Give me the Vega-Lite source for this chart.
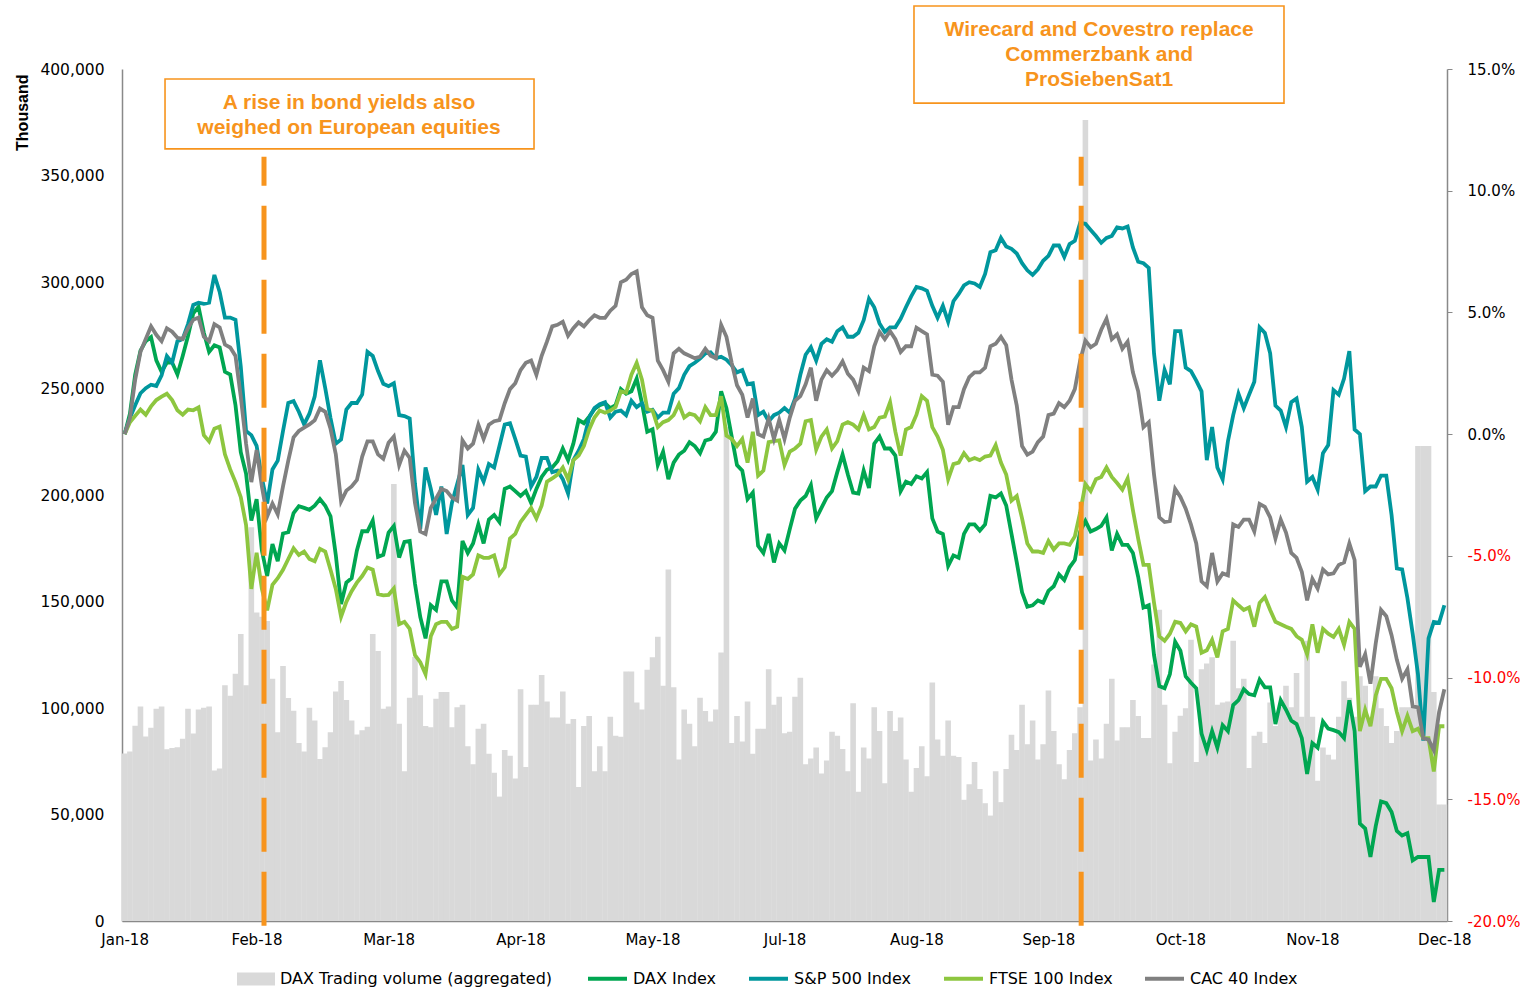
{
"$schema":"https://vega.github.io/schema/vega-lite/v6.json",
"width":1325,"height":852,
"autosize":{"type":"none"},
"padding":{"left":122,"top":69,"right":78,"bottom":68},
"background":"white",
"config":{"view":{"stroke":null},"font":"DejaVu Sans","axis":{"grid":false}},
"data":{"values":[
{"i":0,"v":78600,"dax":0,"sp":0,"ftse":0,"cac":0},
{"i":1,"v":79600,"dax":0.84,"sp":0.66,"ftse":0.49,"cac":0.66},
{"i":2,"v":91700,"dax":2.45,"sp":1.19,"ftse":0.75,"cac":2.24},
{"i":3,"v":100700,"dax":3.43,"sp":1.68,"ftse":1.01,"cac":3.38},
{"i":4,"v":86600,"dax":3.82,"sp":1.89,"ftse":0.80,"cac":3.91},
{"i":5,"v":90700,"dax":3.99,"sp":2.03,"ftse":1.14,"cac":4.43},
{"i":6,"v":99700,"dax":3.03,"sp":1.98,"ftse":1.40,"cac":4.08},
{"i":7,"v":100700,"dax":2.56,"sp":2.42,"ftse":1.54,"cac":3.82},
{"i":8,"v":80600,"dax":2.94,"sp":3.21,"ftse":1.66,"cac":4.35},
{"i":9,"v":81200,"dax":2.94,"sp":2.94,"ftse":1.40,"cac":4.21},
{"i":10,"v":81600,"dax":2.45,"sp":3.82,"ftse":0.98,"cac":3.96},
{"i":11,"v":85600,"dax":3.21,"sp":3.91,"ftse":0.80,"cac":3.91},
{"i":12,"v":99700,"dax":4.03,"sp":4.52,"ftse":1.01,"cac":4.35},
{"i":13,"v":88000,"dax":4.96,"sp":5.31,"ftse":0.98,"cac":4.70},
{"i":14,"v":99300,"dax":5.23,"sp":5.40,"ftse":1.10,"cac":4.79},
{"i":15,"v":100100,"dax":4.17,"sp":5.35,"ftse":-0.04,"cac":4.00},
{"i":16,"v":100700,"dax":3.38,"sp":5.40,"ftse":-0.30,"cac":3.82},
{"i":17,"v":70600,"dax":3.65,"sp":6.54,"ftse":0.22,"cac":4.52},
{"i":18,"v":71600,"dax":3.56,"sp":5.84,"ftse":0.31,"cac":4.38},
{"i":19,"v":110700,"dax":2.56,"sp":4.79,"ftse":-0.83,"cac":3.68},
{"i":20,"v":105700,"dax":2.45,"sp":4.79,"ftse":-1.45,"cac":3.56},
{"i":21,"v":116100,"dax":1.19,"sp":4.70,"ftse":-1.97,"cac":3.21},
{"i":22,"v":134800,"dax":-0.74,"sp":2.77,"ftse":-2.59,"cac":1.54},
{"i":23,"v":110700,"dax":-1.62,"sp":0.13,"ftse":-3.73,"cac":-0.39},
{"i":24,"v":184900,"dax":-3.55,"sp":-0.04,"ftse":-6.36,"cac":-1.97},
{"i":25,"v":144800,"dax":-2.67,"sp":-0.48,"ftse":-4.87,"cac":-0.65},
{"i":26,"v":142800,"dax":-4.78,"sp":-1.80,"ftse":-6.36,"cac":-2.15},
{"i":27,"v":140800,"dax":-5.83,"sp":-2.85,"ftse":-7.24,"cac":-3.38},
{"i":28,"v":113700,"dax":-4.52,"sp":-1.45,"ftse":-6.19,"cac":-2.85},
{"i":29,"v":88600,"dax":-5.22,"sp":-1.09,"ftse":-5.92,"cac":-3.29},
{"i":30,"v":119700,"dax":-4.08,"sp":0.13,"ftse":-5.57,"cac":-2.15},
{"i":31,"v":104700,"dax":-4.03,"sp":1.28,"ftse":-5.13,"cac":-1.09},
{"i":32,"v":98700,"dax":-3.24,"sp":1.36,"ftse":-4.69,"cac":-0.13},
{"i":33,"v":83600,"dax":-2.96,"sp":0.92,"ftse":-4.96,"cac":0.13},
{"i":34,"v":79600,"dax":-3.03,"sp":0.40,"ftse":-4.82,"cac":0.27},
{"i":35,"v":100100,"dax":-3.11,"sp":0.84,"ftse":-5.13,"cac":0.40},
{"i":36,"v":94100,"dax":-2.94,"sp":1.54,"ftse":-5.22,"cac":0.57},
{"i":37,"v":76000,"dax":-2.67,"sp":3.03,"ftse":-4.71,"cac":1.05},
{"i":38,"v":81600,"dax":-2.94,"sp":1.89,"ftse":-4.82,"cac":0.92},
{"i":39,"v":88600,"dax":-3.38,"sp":0.66,"ftse":-5.57,"cac":0.22},
{"i":40,"v":107700,"dax":-4.96,"sp":-0.39,"ftse":-6.36,"cac":-0.83},
{"i":41,"v":112700,"dax":-6.98,"sp":-0.22,"ftse":-7.50,"cac":-2.76},
{"i":42,"v":103700,"dax":-6.10,"sp":1.01,"ftse":-6.89,"cac":-2.32},
{"i":43,"v":94100,"dax":-5.92,"sp":1.28,"ftse":-6.45,"cac":-2.15},
{"i":44,"v":87600,"dax":-4.78,"sp":1.28,"ftse":-6.10,"cac":-1.88},
{"i":45,"v":89600,"dax":-3.99,"sp":1.63,"ftse":-5.83,"cac":-0.92},
{"i":46,"v":91200,"dax":-3.99,"sp":3.38,"ftse":-5.48,"cac":-0.30},
{"i":47,"v":134800,"dax":-3.55,"sp":3.21,"ftse":-5.57,"cac":-0.30},
{"i":48,"v":126800,"dax":-5.04,"sp":2.59,"ftse":-6.57,"cac":-0.83},
{"i":49,"v":99700,"dax":-4.96,"sp":2.07,"ftse":-6.62,"cac":-1.01},
{"i":50,"v":100700,"dax":-4.04,"sp":1.97,"ftse":-6.60,"cac":-0.35},
{"i":51,"v":205200,"dax":-3.77,"sp":2.09,"ftse":-6.34,"cac":-0.10},
{"i":52,"v":92600,"dax":-5.07,"sp":0.78,"ftse":-7.81,"cac":-1.27},
{"i":53,"v":70300,"dax":-4.43,"sp":0.74,"ftse":-7.71,"cac":-0.68},
{"i":54,"v":104800,"dax":-4.39,"sp":0.64,"ftse":-8.00,"cac":-0.98},
{"i":55,"v":124000,"dax":-6.15,"sp":-2.05,"ftse":-9.08,"cac":-2.83},
{"i":56,"v":106000,"dax":-7.51,"sp":-3.90,"ftse":-9.37,"cac":-4.00},
{"i":57,"v":91500,"dax":-8.39,"sp":-1.37,"ftse":-9.86,"cac":-4.10},
{"i":58,"v":91000,"dax":-7.03,"sp":-2.25,"ftse":-8.30,"cac":-3.03},
{"i":59,"v":104400,"dax":-7.22,"sp":-3.32,"ftse":-7.81,"cac":-2.64},
{"i":60,"v":107500,"dax":-6.05,"sp":-2.15,"ftse":-7.71,"cac":-2.25},
{"i":61,"v":107500,"dax":-6.05,"sp":-4.10,"ftse":-7.71,"cac":-2.34},
{"i":62,"v":91000,"dax":-6.83,"sp":-2.83,"ftse":-8.00,"cac":-2.60},
{"i":63,"v":100400,"dax":-7.12,"sp":-2.05,"ftse":-7.91,"cac":-2.73},
{"i":64,"v":101500,"dax":-4.39,"sp":-1.27,"ftse":-5.86,"cac":-0.26},
{"i":65,"v":82100,"dax":-4.88,"sp":-3.32,"ftse":-5.95,"cac":-0.59},
{"i":66,"v":73600,"dax":-4.49,"sp":-3.03,"ftse":-5.76,"cac":-0.39},
{"i":67,"v":90300,"dax":-3.71,"sp":-1.46,"ftse":-4.98,"cac":0.39},
{"i":68,"v":92600,"dax":-4.49,"sp":-1.95,"ftse":-5.08,"cac":-0.20},
{"i":69,"v":78500,"dax":-3.51,"sp":-1.23,"ftse":-5.08,"cac":0.39},
{"i":70,"v":69600,"dax":-3.32,"sp":-1.37,"ftse":-4.98,"cac":0.53},
{"i":71,"v":58400,"dax":-3.61,"sp":-0.49,"ftse":-5.76,"cac":0.58},
{"i":72,"v":80300,"dax":-2.25,"sp":0.39,"ftse":-5.47,"cac":1.27},
{"i":73,"v":77600,"dax":-2.15,"sp":0.45,"ftse":-4.29,"cac":1.85},
{"i":74,"v":66900,"dax":-2.34,"sp":-0.20,"ftse":-4.10,"cac":2.09},
{"i":75,"v":108800,"dax":-2.54,"sp":-0.88,"ftse":-3.61,"cac":2.63},
{"i":76,"v":72300,"dax":-2.34,"sp":-0.92,"ftse":-3.32,"cac":2.93},
{"i":77,"v":101500,"dax":-2.83,"sp":-2.15,"ftse":-3.03,"cac":3.02},
{"i":78,"v":101500,"dax":-2.25,"sp":-1.76,"ftse":-3.46,"cac":2.44},
{"i":79,"v":115500,"dax":-1.76,"sp":-0.98,"ftse":-2.93,"cac":3.22},
{"i":80,"v":103000,"dax":-1.46,"sp":-0.98,"ftse":-1.95,"cac":3.80},
{"i":81,"v":95500,"dax":-1.37,"sp":-1.56,"ftse":-1.82,"cac":4.43},
{"i":82,"v":95500,"dax":-1.11,"sp":-1.50,"ftse":-1.66,"cac":4.49},
{"i":83,"v":107700,"dax":-0.59,"sp":-1.85,"ftse":-1.37,"cac":4.62},
{"i":84,"v":92600,"dax":-1.07,"sp":-2.44,"ftse":-1.86,"cac":4.04},
{"i":85,"v":94800,"dax":-0.39,"sp":-1.07,"ftse":-1.07,"cac":4.35},
{"i":86,"v":62900,"dax":0.58,"sp":-0.68,"ftse":-0.88,"cac":4.59},
{"i":87,"v":91500,"dax":0.45,"sp":-0.20,"ftse":-0.49,"cac":4.43},
{"i":88,"v":96300,"dax":0.72,"sp":0.68,"ftse":0.19,"cac":4.68},
{"i":89,"v":70300,"dax":1.03,"sp":1.07,"ftse":0.68,"cac":4.88},
{"i":90,"v":82100,"dax":1.19,"sp":1.23,"ftse":0.97,"cac":4.78},
{"i":91,"v":70300,"dax":1.27,"sp":1.31,"ftse":0.88,"cac":4.78},
{"i":92,"v":95900,"dax":1.07,"sp":0.68,"ftse":0.97,"cac":5.07},
{"i":93,"v":87000,"dax":1.19,"sp":0.92,"ftse":1.11,"cac":5.27},
{"i":94,"v":86500,"dax":1.85,"sp":0.97,"ftse":1.76,"cac":6.24},
{"i":95,"v":117100,"dax":1.66,"sp":0.78,"ftse":1.70,"cac":6.34},
{"i":96,"v":117100,"dax":1.76,"sp":1.37,"ftse":2.44,"cac":6.58},
{"i":97,"v":102600,"dax":2.28,"sp":1.11,"ftse":2.93,"cac":6.69},
{"i":98,"v":99300,"dax":1.27,"sp":1.27,"ftse":2.24,"cac":5.21},
{"i":99,"v":118000,"dax":0.10,"sp":0.92,"ftse":1.03,"cac":4.88},
{"i":100,"v":123800,"dax":0.20,"sp":1.00,"ftse":0.97,"cac":4.78},
{"i":101,"v":133400,"dax":-1.27,"sp":0.68,"ftse":0.29,"cac":3.02},
{"i":102,"v":110400,"dax":-0.72,"sp":0.88,"ftse":0.49,"cac":2.63},
{"i":103,"v":165000,"dax":-1.85,"sp":0.88,"ftse":0.58,"cac":2.15},
{"i":104,"v":109700,"dax":-1.17,"sp":1.66,"ftse":0.78,"cac":3.32},
{"i":105,"v":75800,"dax":-0.84,"sp":1.89,"ftse":1.23,"cac":3.51},
{"i":106,"v":99300,"dax":-0.68,"sp":2.44,"ftse":0.68,"cac":3.32},
{"i":107,"v":92600,"dax":-0.33,"sp":2.79,"ftse":0.84,"cac":3.22},
{"i":108,"v":82100,"dax":-0.49,"sp":2.93,"ftse":0.78,"cac":3.12},
{"i":109,"v":104800,"dax":-0.78,"sp":3.10,"ftse":0.53,"cac":3.18},
{"i":110,"v":98600,"dax":-0.26,"sp":3.32,"ftse":1.11,"cac":3.51},
{"i":111,"v":93700,"dax":-0.20,"sp":3.36,"ftse":0.78,"cac":3.22},
{"i":112,"v":99300,"dax":0.10,"sp":3.12,"ftse":0.78,"cac":3.12},
{"i":113,"v":126000,"dax":1.76,"sp":3.18,"ftse":1.56,"cac":4.49},
{"i":114,"v":232000,"dax":1.07,"sp":3.06,"ftse":-0.06,"cac":4.00},
{"i":115,"v":83600,"dax":-0.10,"sp":2.83,"ftse":-0.20,"cac":2.93},
{"i":116,"v":96300,"dax":-1.27,"sp":2.54,"ftse":-0.49,"cac":2.01},
{"i":117,"v":84300,"dax":-1.50,"sp":2.63,"ftse":-0.20,"cac":1.62},
{"i":118,"v":103000,"dax":-2.67,"sp":2.05,"ftse":-1.17,"cac":0.68},
{"i":119,"v":78500,"dax":-2.40,"sp":2.09,"ftse":0.10,"cac":1.46},
{"i":120,"v":90300,"dax":-4.59,"sp":0.78,"ftse":-1.70,"cac":0.00},
{"i":121,"v":90300,"dax":-4.88,"sp":0.92,"ftse":-1.50,"cac":-0.10},
{"i":122,"v":118200,"dax":-4.10,"sp":0.53,"ftse":-0.33,"cac":0.64},
{"i":123,"v":101500,"dax":-5.27,"sp":0.78,"ftse":-0.29,"cac":-0.20},
{"i":124,"v":105300,"dax":-4.49,"sp":0.88,"ftse":-0.26,"cac":0.58},
{"i":125,"v":88100,"dax":-4.78,"sp":1.07,"ftse":-1.27,"cac":-0.20},
{"i":126,"v":88800,"dax":-3.90,"sp":0.88,"ftse":-0.72,"cac":0.68},
{"i":127,"v":105300,"dax":-3.06,"sp":1.46,"ftse":-0.59,"cac":1.37},
{"i":128,"v":114200,"dax":-2.73,"sp":2.44,"ftse":-0.39,"cac":1.56},
{"i":129,"v":73600,"dax":-2.54,"sp":3.26,"ftse":0.53,"cac":2.05},
{"i":130,"v":76300,"dax":-2.09,"sp":3.57,"ftse":0.58,"cac":2.73},
{"i":131,"v":81400,"dax":-3.46,"sp":3.02,"ftse":-0.64,"cac":1.37},
{"i":132,"v":69200,"dax":-3.03,"sp":3.71,"ftse":-0.10,"cac":2.24},
{"i":133,"v":75400,"dax":-2.60,"sp":3.90,"ftse":0.19,"cac":2.63},
{"i":134,"v":88800,"dax":-2.34,"sp":3.80,"ftse":-0.59,"cac":2.40},
{"i":135,"v":87000,"dax":-1.56,"sp":4.23,"ftse":-0.29,"cac":2.63},
{"i":136,"v":80800,"dax":-0.84,"sp":4.39,"ftse":0.39,"cac":2.99},
{"i":137,"v":70300,"dax":-1.66,"sp":4.00,"ftse":0.49,"cac":2.48},
{"i":138,"v":102200,"dax":-2.40,"sp":4.00,"ftse":0.39,"cac":2.24},
{"i":139,"v":60700,"dax":-2.44,"sp":4.16,"ftse":0.19,"cac":1.76},
{"i":140,"v":81400,"dax":-1.50,"sp":4.68,"ftse":0.78,"cac":2.73},
{"i":141,"v":76300,"dax":-2.21,"sp":5.56,"ftse":0.19,"cac":2.59},
{"i":142,"v":100400,"dax":-0.39,"sp":5.21,"ftse":0.29,"cac":3.61},
{"i":143,"v":89200,"dax":-0.10,"sp":4.55,"ftse":0.68,"cac":4.20},
{"i":144,"v":64700,"dax":-0.59,"sp":4.20,"ftse":0.72,"cac":3.90},
{"i":145,"v":98600,"dax":-0.59,"sp":4.39,"ftse":1.31,"cac":4.23},
{"i":146,"v":89200,"dax":-0.88,"sp":4.39,"ftse":0.10,"cac":3.90},
{"i":147,"v":95500,"dax":-2.34,"sp":4.74,"ftse":-0.88,"cac":3.37},
{"i":148,"v":75800,"dax":-1.95,"sp":5.21,"ftse":0.19,"cac":3.61},
{"i":149,"v":60700,"dax":-2.05,"sp":5.66,"ftse":0.29,"cac":3.61},
{"i":150,"v":71800,"dax":-1.73,"sp":6.05,"ftse":0.80,"cac":4.37},
{"i":151,"v":82100,"dax":-1.82,"sp":5.99,"ftse":1.56,"cac":4.23},
{"i":152,"v":68000,"dax":-1.56,"sp":5.89,"ftse":1.37,"cac":4.10},
{"i":153,"v":112000,"dax":-3.46,"sp":5.27,"ftse":0.29,"cac":2.44},
{"i":154,"v":85200,"dax":-4.00,"sp":4.78,"ftse":-0.10,"cac":2.40},
{"i":155,"v":77600,"dax":-4.10,"sp":5.27,"ftse":-0.64,"cac":2.15},
{"i":156,"v":94100,"dax":-5.41,"sp":4.62,"ftse":-1.85,"cac":0.39},
{"i":157,"v":77600,"dax":-4.98,"sp":5.46,"ftse":-1.23,"cac":1.11},
{"i":158,"v":77000,"dax":-5.08,"sp":5.76,"ftse":-1.17,"cac":1.11},
{"i":159,"v":56900,"dax":-4.10,"sp":6.11,"ftse":-0.78,"cac":1.85},
{"i":160,"v":64200,"dax":-3.71,"sp":6.24,"ftse":-1.07,"cac":2.34},
{"i":161,"v":74700,"dax":-3.71,"sp":6.19,"ftse":-0.98,"cac":2.54},
{"i":162,"v":62000,"dax":-3.96,"sp":6.05,"ftse":-1.07,"cac":2.54},
{"i":163,"v":55300,"dax":-3.71,"sp":6.58,"ftse":-0.92,"cac":2.73},
{"i":164,"v":49500,"dax":-2.54,"sp":7.47,"ftse":-0.88,"cac":3.61},
{"i":165,"v":70300,"dax":-2.60,"sp":7.55,"ftse":-0.45,"cac":3.71},
{"i":166,"v":55800,"dax":-2.44,"sp":8.06,"ftse":-1.17,"cac":4.00},
{"i":167,"v":71400,"dax":-2.93,"sp":7.71,"ftse":-1.66,"cac":3.65},
{"i":168,"v":87400,"dax":-4.10,"sp":7.61,"ftse":-2.73,"cac":2.24},
{"i":169,"v":80300,"dax":-5.27,"sp":7.42,"ftse":-2.54,"cac":1.17},
{"i":170,"v":101500,"dax":-6.50,"sp":7.02,"ftse":-3.46,"cac":-0.49},
{"i":171,"v":83000,"dax":-7.09,"sp":6.73,"ftse":-4.49,"cac":-0.84},
{"i":172,"v":94100,"dax":-7.03,"sp":6.54,"ftse":-4.82,"cac":-0.72},
{"i":173,"v":75800,"dax":-6.83,"sp":6.77,"ftse":-4.82,"cac":-0.33},
{"i":174,"v":83000,"dax":-6.93,"sp":7.12,"ftse":-4.88,"cac":-0.10},
{"i":175,"v":108200,"dax":-6.44,"sp":7.32,"ftse":-4.39,"cac":0.78},
{"i":176,"v":89200,"dax":-6.25,"sp":7.75,"ftse":-4.74,"cac":0.84},
{"i":177,"v":73600,"dax":-5.76,"sp":7.75,"ftse":-4.49,"cac":1.27},
{"i":178,"v":66500,"dax":-5.99,"sp":7.28,"ftse":-4.49,"cac":1.11},
{"i":179,"v":80300,"dax":-5.47,"sp":7.81,"ftse":-4.55,"cac":1.37},
{"i":180,"v":88100,"dax":-5.17,"sp":7.94,"ftse":-4.20,"cac":1.85},
{"i":181,"v":100400,"dax":-4.00,"sp":8.68,"ftse":-3.22,"cac":3.02},
{"i":182,"v":376000,"dax":-3.57,"sp":8.64,"ftse":-2.05,"cac":3.84},
{"i":183,"v":75400,"dax":-4.00,"sp":8.39,"ftse":-2.34,"cac":3.57},
{"i":184,"v":85200,"dax":-3.90,"sp":8.14,"ftse":-1.85,"cac":3.71},
{"i":185,"v":76300,"dax":-3.77,"sp":7.86,"ftse":-1.76,"cac":4.29},
{"i":186,"v":92600,"dax":-3.42,"sp":8.06,"ftse":-1.37,"cac":4.74},
{"i":187,"v":113700,"dax":-4.78,"sp":8.14,"ftse":-1.76,"cac":3.90},
{"i":188,"v":84800,"dax":-4.10,"sp":8.49,"ftse":-2.01,"cac":4.10},
{"i":189,"v":91000,"dax":-4.55,"sp":8.45,"ftse":-2.28,"cac":3.51},
{"i":190,"v":91000,"dax":-4.55,"sp":8.53,"ftse":-1.82,"cac":3.80},
{"i":191,"v":103700,"dax":-4.88,"sp":7.67,"ftse":-3.12,"cac":2.54},
{"i":192,"v":96300,"dax":-5.86,"sp":7.08,"ftse":-4.29,"cac":1.76},
{"i":193,"v":85900,"dax":-7.12,"sp":7.02,"ftse":-5.37,"cac":0.29},
{"i":194,"v":85900,"dax":-7.03,"sp":6.83,"ftse":-5.37,"cac":0.49},
{"i":195,"v":120400,"dax":-9.08,"sp":3.32,"ftse":-6.93,"cac":-1.66},
{"i":196,"v":146100,"dax":-10.35,"sp":1.37,"ftse":-8.30,"cac":-3.42},
{"i":197,"v":101500,"dax":-10.44,"sp":2.63,"ftse":-8.49,"cac":-3.61},
{"i":198,"v":74100,"dax":-9.86,"sp":2.05,"ftse":-8.20,"cac":-3.57},
{"i":199,"v":88800,"dax":-8.53,"sp":4.23,"ftse":-7.71,"cac":-2.25},
{"i":200,"v":96400,"dax":-8.90,"sp":4.23,"ftse":-7.76,"cac":-2.58},
{"i":201,"v":99900,"dax":-9.95,"sp":2.73,"ftse":-8.10,"cac":-3.06},
{"i":202,"v":132000,"dax":-10.21,"sp":2.59,"ftse":-7.81,"cac":-3.71},
{"i":203,"v":74700,"dax":-10.44,"sp":2.20,"ftse":-7.91,"cac":-4.49},
{"i":204,"v":118200,"dax":-12.30,"sp":1.76,"ftse":-8.98,"cac":-6.05},
{"i":205,"v":120900,"dax":-12.98,"sp":-1.07,"ftse":-8.88,"cac":-6.25},
{"i":206,"v":123800,"dax":-12.20,"sp":0.29,"ftse":-8.45,"cac":-4.88},
{"i":207,"v":101500,"dax":-12.88,"sp":-1.37,"ftse":-9.17,"cac":-6.05},
{"i":208,"v":102600,"dax":-11.96,"sp":-1.86,"ftse":-8.10,"cac":-5.72},
{"i":209,"v":103000,"dax":-12.20,"sp":-0.29,"ftse":-8.00,"cac":-5.80},
{"i":210,"v":131600,"dax":-11.13,"sp":0.78,"ftse":-6.83,"cac":-3.71},
{"i":211,"v":109300,"dax":-10.93,"sp":1.66,"ftse":-7.03,"cac":-3.81},
{"i":212,"v":113700,"dax":-10.48,"sp":1.07,"ftse":-7.22,"cac":-3.51},
{"i":213,"v":71800,"dax":-10.68,"sp":1.62,"ftse":-7.12,"cac":-3.51},
{"i":214,"v":87000,"dax":-10.73,"sp":2.15,"ftse":-7.91,"cac":-4.00},
{"i":215,"v":88800,"dax":-10.09,"sp":4.39,"ftse":-6.93,"cac":-2.87},
{"i":216,"v":83600,"dax":-10.40,"sp":4.16,"ftse":-6.69,"cac":-2.99},
{"i":217,"v":102600,"dax":-10.40,"sp":3.32,"ftse":-7.22,"cac":-3.42},
{"i":218,"v":91500,"dax":-11.91,"sp":1.17,"ftse":-7.71,"cac":-4.29},
{"i":219,"v":100400,"dax":-10.93,"sp":0.97,"ftse":-7.81,"cac":-3.51},
{"i":220,"v":110400,"dax":-11.32,"sp":0.29,"ftse":-7.91,"cac":-4.04},
{"i":221,"v":100400,"dax":-11.77,"sp":1.31,"ftse":-8.00,"cac":-4.88},
{"i":222,"v":116400,"dax":-11.91,"sp":1.46,"ftse":-8.30,"cac":-5.08},
{"i":223,"v":95900,"dax":-12.49,"sp":0.29,"ftse":-8.45,"cac":-5.66},
{"i":224,"v":131600,"dax":-13.96,"sp":-1.95,"ftse":-9.04,"cac":-6.83},
{"i":225,"v":95900,"dax":-12.69,"sp":-1.76,"ftse":-7.81,"cac":-5.95},
{"i":226,"v":65800,"dax":-12.88,"sp":-2.28,"ftse":-8.98,"cac":-6.34},
{"i":227,"v":81400,"dax":-11.81,"sp":-0.78,"ftse":-8.00,"cac":-5.56},
{"i":228,"v":78100,"dax":-12.10,"sp":-0.45,"ftse":-8.20,"cac":-5.76},
{"i":229,"v":75800,"dax":-12.16,"sp":1.81,"ftse":-8.33,"cac":-5.72},
{"i":230,"v":95900,"dax":-12.24,"sp":1.62,"ftse":-8.00,"cac":-5.37},
{"i":231,"v":112600,"dax":-12.49,"sp":2.28,"ftse":-8.65,"cac":-5.27},
{"i":232,"v":104800,"dax":-10.93,"sp":3.41,"ftse":-7.71,"cac":-4.49},
{"i":233,"v":95900,"dax":-12.20,"sp":0.19,"ftse":-8.00,"cac":-5.17},
{"i":234,"v":114900,"dax":-16.00,"sp":0.00,"ftse":-12.20,"cac":-9.56},
{"i":235,"v":110400,"dax":-16.20,"sp":-2.34,"ftse":-11.32,"cac":-9.04},
{"i":236,"v":95900,"dax":-17.37,"sp":-2.15,"ftse":-12.00,"cac":-10.25},
{"i":237,"v":114900,"dax":-16.10,"sp":-2.15,"ftse":-10.73,"cac":-8.59},
{"i":238,"v":99900,"dax":-15.09,"sp":-1.70,"ftse":-10.05,"cac":-7.22},
{"i":239,"v":91500,"dax":-15.16,"sp":-1.70,"ftse":-10.05,"cac":-7.48},
{"i":240,"v":83600,"dax":-15.52,"sp":-3.32,"ftse":-10.44,"cac":-8.26},
{"i":241,"v":89200,"dax":-16.30,"sp":-5.52,"ftse":-11.42,"cac":-9.27},
{"i":242,"v":100400,"dax":-16.49,"sp":-5.56,"ftse":-12.20,"cac":-10.05},
{"i":243,"v":100400,"dax":-16.39,"sp":-6.73,"ftse":-11.57,"cac":-9.66},
{"i":244,"v":100400,"dax":-17.51,"sp":-8.20,"ftse":-12.20,"cac":-11.18},
{"i":245,"v":223000,"dax":-17.37,"sp":-9.86,"ftse":-12.10,"cac":-11.22},
{"i":246,"v":223000,"dax":-17.37,"sp":-12.59,"ftse":-12.49,"cac":-12.49},
{"i":247,"v":223000,"dax":-17.37,"sp":-8.39,"ftse":-12.49,"cac":-12.55},
{"i":248,"v":107500,"dax":-19.22,"sp":-7.71,"ftse":-13.86,"cac":-12.98},
{"i":249,"v":54700,"dax":-17.90,"sp":-7.75,"ftse":-12.00,"cac":-11.42},
{"i":250,"v":54700,"dax":-17.90,"sp":-7.03,"ftse":-12.00,"cac":-10.48}
]},
"layer":[
{
"mark":{"type":"bar","width":5.6},
"encoding":{
"x":{"field":"i","type":"quantitative","scale":{"domain":[-0.5,250.5],"nice":false,"zero":false,"padding":0},
"axis":{"values":[0,25,50,75,100,125,150,175,200,225,250],"labelExpr":"['Jan-18','Feb-18','Mar-18','Apr-18','May-18','Jul-18','Aug-18','Sep-18','Oct-18','Nov-18','Dec-18'][round(datum.value/25)]","ticks":false,"domainColor":"#898989","domainWidth":1.5,"labelFontSize":15,"labelColor":"#000000","labelPadding":11,"title":null,"grid":false}},
"y":{"field":"v","type":"quantitative","scale":{"domain":[0,400000],"nice":false},
"axis":{"orient":"left","values":[0,50000,100000,150000,200000,250000,300000,350000,400000],"labelExpr":"format(datum.value, ',d')","ticks":false,"domainColor":"#898989","domainWidth":1.5,"labelFontSize":15.5,"labelColor":"#000000","labelPadding":18,"title":"Thousand","titleFont":"Liberation Sans","titleFontWeight":"bold","titleFontSize":16,"titleColor":"#000000","titleAngle":270,"titleAlign":"right","titleBaseline":"middle","titleX":-100,"titleY":5,"grid":false}},
"fill":{"datum":"DAX Trading volume (aggregated)","type":"nominal","scale":{"range":["#D9D9D9"]},
"legend":{"orient":"none","legendX":115,"legendY":891,"direction":"horizontal","title":null,"symbolType":"M-1,-0.34L1,-0.34L1,0.34L-1,0.34Z","symbolSize":1444,"symbolStrokeWidth":0,"labelFontSize":16,"labelFont":"DejaVu Sans","labelColor":"#000000","labelOffset":5,"labelLimit":500}}
}
},
{
"layer":[
{
"transform":[{"fold":["dax","sp","ftse","cac"],"as":["series","pct"]}],
"mark":{"type":"line","strokeWidth":3.8},
"encoding":{
"x":{"field":"i","type":"quantitative","scale":{"domain":[-0.5,250.5],"nice":false,"zero":false,"padding":0}},
"y":{"field":"pct","type":"quantitative","scale":{"domain":[-20,15],"nice":false,"zero":false},
"axis":{"orient":"right","values":[-20,-15,-10,-5,0,5,10,15],"labelExpr":"(datum.value < 0 ? '-' : '') + format(abs(datum.value),'.1f') + '%'","ticks":true,"tickSize":5,"tickColor":"#898989","domainColor":"#898989","domainWidth":1.5,"labelFontSize":15,"labelPadding":15,"labelColor":{"condition":{"test":"datum.value < 0","value":"#FF0000"},"value":"#000000"},"title":null,"grid":false}},
"stroke":{"field":"series","type":"nominal","scale":{"domain":["dax","sp","ftse","cac"],"range":["#00A651","#00979D","#8DC63F","#808080"]},
"legend":{"orient":"none","legendX":464,"legendY":888,"direction":"horizontal","title":null,"symbolType":"stroke","symbolSize":1521,"symbolStrokeWidth":4,"labelFontSize":16,"labelFont":"DejaVu Sans","labelColor":"#000000","labelOffset":4,"columnPadding":24,"labelLimit":300,
"labelExpr":"datum.label == 'dax' ? 'DAX Index' : datum.label == 'sp' ? 'S&P 500 Index' : datum.label == 'ftse' ? 'FTSE 100 Index' : 'CAC 40 Index'"}}
}
},
{
"data":{"values":[{"x":26.4,"y":-20.2,"y2":11.4},{"x":181.2,"y":-20.2,"y2":11.4}]},
"mark":{"type":"rule","color":"#F7941D","strokeWidth":5,"strokeDash":[54,20]},
"encoding":{
"x":{"field":"x","type":"quantitative","scale":{"domain":[-0.5,250.5],"nice":false,"zero":false,"padding":0}},
"y":{"field":"y","type":"quantitative","scale":{"domain":[-20,15],"nice":false,"zero":false}},
"y2":{"field":"y2"}
}
},
{
"data":{"values":[{"x":7.65,"x2":77.55,"y":14.59,"y2":11.72},{"x":149.53,"x2":219.62,"y":17.59,"y2":13.60}]},
"mark":{"type":"rect","fill":"white","stroke":"#F7941D","strokeWidth":1.6},
"encoding":{
"x":{"field":"x","type":"quantitative","scale":{"domain":[-0.5,250.5],"nice":false,"zero":false,"padding":0}},
"x2":{"field":"x2"},
"y":{"field":"y","type":"quantitative","scale":{"domain":[-20,15],"nice":false,"zero":false}},
"y2":{"field":"y2"}
}
},
{
"data":{"values":[
{"x":42.5,"y":13.6,"t":"A rise in bond yields also"},
{"x":42.5,"y":12.57,"t":"weighed on European equities"},
{"x":184.6,"y":16.61,"t":"Wirecard and Covestro replace"},
{"x":184.6,"y":15.58,"t":"Commerzbank and"},
{"x":184.6,"y":14.56,"t":"ProSiebenSat1"}
]},
"mark":{"type":"text","font":"Liberation Sans","fontWeight":"bold","fontSize":21,"color":"#F7941D","align":"center","baseline":"middle"},
"encoding":{
"x":{"field":"x","type":"quantitative","scale":{"domain":[-0.5,250.5],"nice":false,"zero":false,"padding":0}},
"y":{"field":"y","type":"quantitative","scale":{"domain":[-20,15],"nice":false,"zero":false}},
"text":{"field":"t"}
}
}
]
}
],
"resolve":{"scale":{"y":"independent"}}
}
